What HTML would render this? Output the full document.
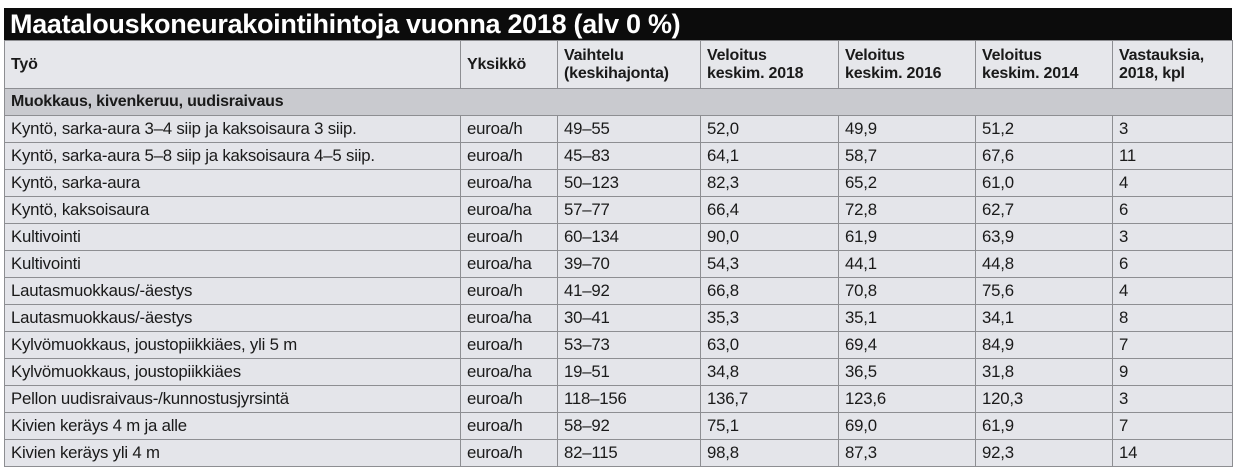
<!DOCTYPE html>
<html><head><meta charset="utf-8"><style>
html,body{margin:0;padding:0;background:#fff;width:1240px;height:472px;overflow:hidden}
body{font-family:"Liberation Sans Narrow","Liberation Sans",sans-serif;color:#1a1a1a}
.title{position:absolute;left:4px;top:8px;width:1228px;height:32px;background:#0c0c0c;color:#fff;font-family:"Liberation Sans",sans-serif;font-weight:bold;font-size:27px;line-height:32px;padding-left:6px;box-sizing:border-box;letter-spacing:-0.3px}
table{position:absolute;left:4px;top:40px;width:1228px;border-collapse:collapse;table-layout:fixed;font-size:16.8px}
td{border:1px solid #8d8e92;padding:0 0 0 6px;height:26px;background:#e4e5ea;white-space:nowrap;overflow:hidden;letter-spacing:-0.2px}
tr.h td{height:47px;font-weight:bold;line-height:18px;vertical-align:middle;background:#e6e7eb;font-size:16px}
tr.s td{height:26px;font-weight:bold;background:#c9cacf;font-size:16px}
</style></head><body>
<div class="title">Maatalouskoneurakointihintoja vuonna 2018 (alv 0 %)</div>
<table>
<colgroup><col style="width:456px"><col style="width:97px"><col style="width:143px"><col style="width:138px"><col style="width:137px"><col style="width:137px"><col style="width:120px"></colgroup>
<tr class="h"><td>Työ</td><td>Yksikkö</td><td>Vaihtelu<br>(keskihajonta)</td><td>Veloitus<br>keskim. 2018</td><td>Veloitus<br>keskim. 2016</td><td>Veloitus<br>keskim. 2014</td><td>Vastauksia,<br>2018, kpl</td></tr>
<tr class="s"><td colspan="7">Muokkaus, kivenkeruu, uudisraivaus</td></tr>
<tr><td>Kyntö, sarka-aura 3–4 siip ja kaksoisaura 3 siip.</td><td>euroa/h</td><td>49–55</td><td>52,0</td><td>49,9</td><td>51,2</td><td>3</td></tr>
<tr><td>Kyntö, sarka-aura 5–8 siip ja kaksoisaura 4–5 siip.</td><td>euroa/h</td><td>45–83</td><td>64,1</td><td>58,7</td><td>67,6</td><td>11</td></tr>
<tr><td>Kyntö, sarka-aura</td><td>euroa/ha</td><td>50–123</td><td>82,3</td><td>65,2</td><td>61,0</td><td>4</td></tr>
<tr><td>Kyntö, kaksoisaura</td><td>euroa/ha</td><td>57–77</td><td>66,4</td><td>72,8</td><td>62,7</td><td>6</td></tr>
<tr><td>Kultivointi</td><td>euroa/h</td><td>60–134</td><td>90,0</td><td>61,9</td><td>63,9</td><td>3</td></tr>
<tr><td>Kultivointi</td><td>euroa/ha</td><td>39–70</td><td>54,3</td><td>44,1</td><td>44,8</td><td>6</td></tr>
<tr><td>Lautasmuokkaus/-äestys</td><td>euroa/h</td><td>41–92</td><td>66,8</td><td>70,8</td><td>75,6</td><td>4</td></tr>
<tr><td>Lautasmuokkaus/-äestys</td><td>euroa/ha</td><td>30–41</td><td>35,3</td><td>35,1</td><td>34,1</td><td>8</td></tr>
<tr><td>Kylvömuokkaus, joustopiikkiäes, yli 5 m</td><td>euroa/h</td><td>53–73</td><td>63,0</td><td>69,4</td><td>84,9</td><td>7</td></tr>
<tr><td>Kylvömuokkaus, joustopiikkiäes</td><td>euroa/ha</td><td>19–51</td><td>34,8</td><td>36,5</td><td>31,8</td><td>9</td></tr>
<tr><td>Pellon uudisraivaus-/kunnostusjyrsintä</td><td>euroa/h</td><td>118–156</td><td>136,7</td><td>123,6</td><td>120,3</td><td>3</td></tr>
<tr><td>Kivien keräys 4 m ja alle</td><td>euroa/h</td><td>58–92</td><td>75,1</td><td>69,0</td><td>61,9</td><td>7</td></tr>
<tr><td>Kivien keräys yli 4 m</td><td>euroa/h</td><td>82–115</td><td>98,8</td><td>87,3</td><td>92,3</td><td>14</td></tr>
</table>
</body></html>
